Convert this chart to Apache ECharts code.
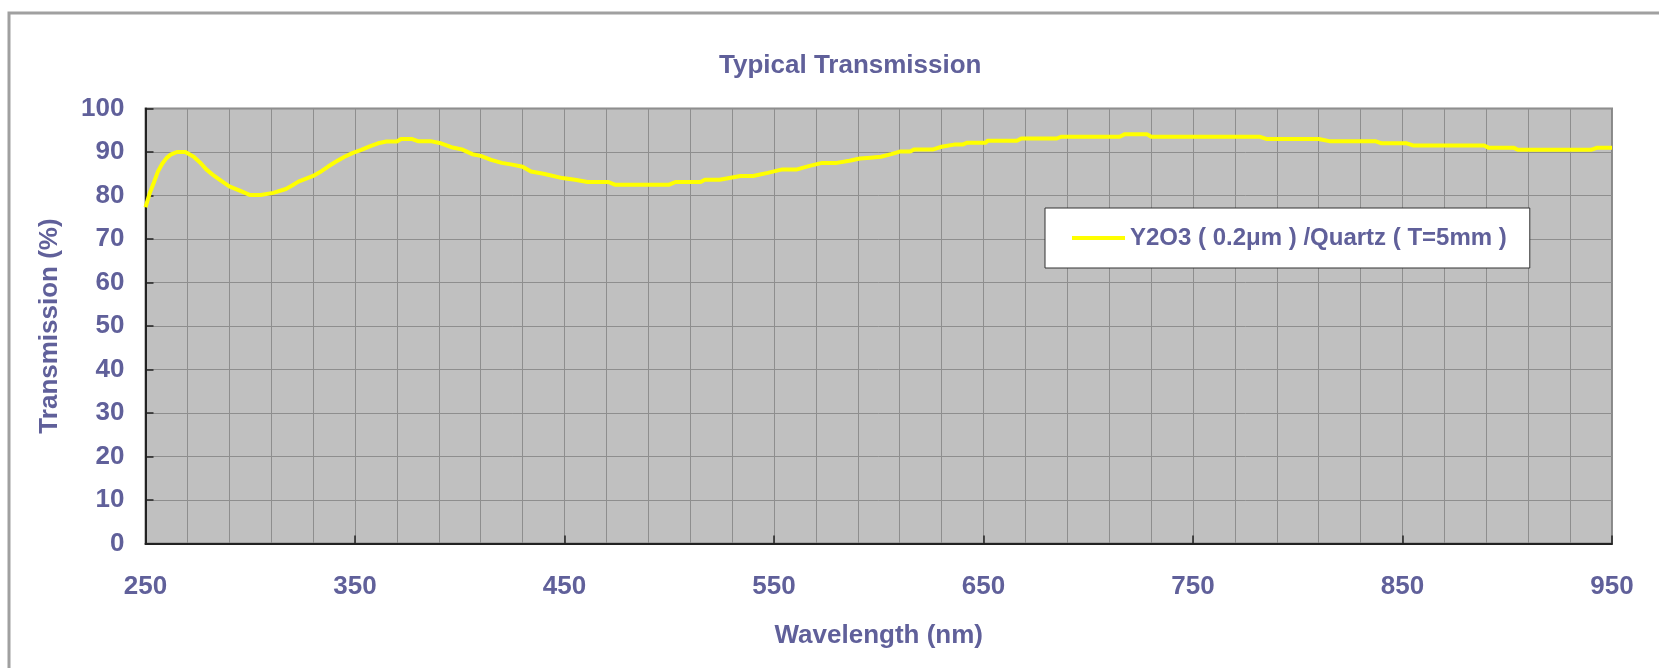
<!DOCTYPE html>
<html>
<head>
<meta charset="utf-8">
<script src="https://cdn.jsdelivr.net/npm/echarts@6/dist/echarts.min.js"></script>
<style>
html,body{margin:0;padding:0;background:#fff;}
#chart{width:1659px;height:668px;}
</style>
</head>
<body>
<div id="chart"></div>
<script>
// Wavelength (nm)
const wavelengths = [250,252,254,256,258,260,262,265,269,273,276,279,282,286,290,295,300,305,311,317,320,323,330,334,337,341,345,349,353,357,361,365,370,372,377,380,386,391,396,401,406,410,415,420,425,430,434,440,449,455,461,471,474,500,503,515,517,524,534,540,547,554,561,567,573,580,586,591,596,601,606,610,615,617,626,630,636,640,642,651,652,666,668,685,687,715,717.5,728,730,782,785,810,815,837,840,852,855,889,891,903,905,940,943,950];
// Transmission (%)
const transmission = [77.3,80.5,83,85.6,87.3,88.6,89.4,90,90,88.9,87.6,86,84.8,83.4,82.1,81.1,80.1,80.1,80.6,81.5,82.3,83.2,84.5,85.6,86.6,87.8,88.9,89.8,90.5,91.3,92,92.4,92.4,93,93,92.5,92.5,92,91.1,90.6,89.5,89.1,88.2,87.5,87.1,86.6,85.5,85,84,83.6,83.1,83.1,82.5,82.5,83.1,83.1,83.6,83.6,84.5,84.5,85.2,86,86,86.8,87.5,87.5,88,88.5,88.7,88.9,89.5,90.1,90.1,90.6,90.6,91.2,91.7,91.7,92.1,92.1,92.6,92.6,93.1,93.1,93.5,93.5,94.1,94.1,93.5,93.5,93,93,92.5,92.5,92,92,91.5,91.5,91,91,90.5,90.5,91,91];

const chartTitle = 'Typical Transmission';
const seriesName = 'Y2O3 ( 0.2μm ) /Quartz ( T=5mm )';
const xName = 'Wavelength (nm)';
const yName = 'Transmission (%)';

const txt = '#60609a';
const ff = '"Liberation Sans", Arial, Helvetica, sans-serif';

const chart = echarts.init(document.getElementById('chart'), null, {renderer: 'canvas'});
chart.setOption({
  backgroundColor: '#ffffff',
  animation: false,
  graphic: [{
    type: 'rect',
    silent: true,
    shape: {x: 9, y: 13, width: 1700, height: 700},
    style: {fill: 'none', stroke: '#a0a0a0', lineWidth: 3}
  }],
  title: {
    text: chartTitle,
    left: 719,
    top: 53,
    padding: 0,
    textStyle: {fontFamily: ff, fontSize: 26, fontWeight: 'bold', color: txt}
  },
  legend: {
    left: 1045,
    top: 208,
    orient: 'horizontal',
    backgroundColor: '#ffffff',
    borderColor: '#333333',
    borderWidth: 1,
    borderRadius: 0,
    padding: [18, 23, 18, 27],
    icon: 'rect',
    itemWidth: 53,
    itemHeight: 4,
    textStyle: {fontFamily: ff, fontSize: 24, fontWeight: 'bold', color: txt}
  },
  grid: {
    left: 145.5,
    right: 47,
    top: 108.5,
    bottom: 124.5,
    show: true,
    backgroundColor: '#c0c0c0',
    borderColor: '#888888',
    borderWidth: 2
  },
  xAxis: {
    type: 'value',
    min: 250,
    max: 950,
    interval: 100,
    name: xName,
    nameLocation: 'middle',
    nameGap: 79,
    nameTextStyle: {fontFamily: ff, fontSize: 26, fontWeight: 'bold', color: txt},
    axisLine: {show: true, onZero: false, lineStyle: {color: '#222', width: 2}},
    axisTick: {show: true, inside: true, length: 8, lineStyle: {color: '#222', width: 1.5}},
    axisLabel: {margin: 30, fontFamily: ff, fontSize: 26, fontWeight: 'bold', color: txt},
    splitLine: {show: true, lineStyle: {color: '#8e8e8e', width: 1}},
    minorTick: {show: false, splitNumber: 5},
    minorSplitLine: {show: true, lineStyle: {color: '#8e8e8e', width: 1}}
  },
  yAxis: {
    type: 'value',
    min: 0,
    max: 100,
    interval: 10,
    name: yName,
    nameLocation: 'middle',
    nameGap: 83,
    nameTextStyle: {fontFamily: ff, fontSize: 26, fontWeight: 'bold', color: txt},
    axisLine: {show: true, lineStyle: {color: '#222', width: 2}},
    axisTick: {show: true, inside: true, length: 8, lineStyle: {color: '#222', width: 1.5}},
    axisLabel: {margin: 21, fontFamily: ff, fontSize: 26, fontWeight: 'bold', color: txt},
    splitLine: {show: true, lineStyle: {color: '#8e8e8e', width: 1}}
  },
  series: [{
    name: seriesName,
    type: 'line',
    data: wavelengths.map((w, i) => [w, transmission[i]]),
    symbol: 'none',
    smooth: false,
    color: '#ffff00',
    lineStyle: {color: '#ffff00', width: 4}
  }]
});
</script>
</body>
</html>
